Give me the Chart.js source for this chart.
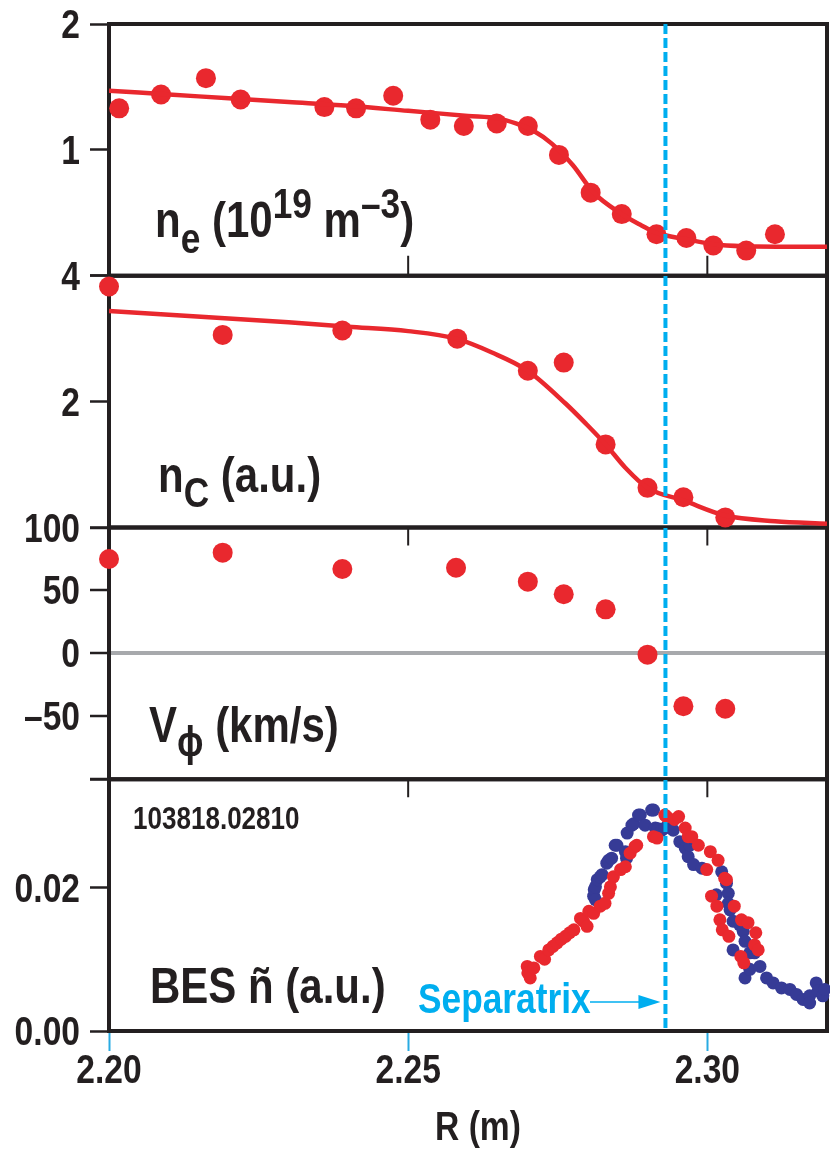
<!DOCTYPE html>
<html>
<head>
<meta charset="utf-8">
<script src="https://cdn.jsdelivr.net/npm/chart.js@4"></script>
<style>
  html, body { margin: 0; padding: 0; background: #fff; }
  #wrap { width: 830px; height: 1151px; }
</style>
</head>
<body>
<div id="wrap"><canvas id="profiles" width="830" height="1151"></canvas></div>
<script>
// Datos (R en m)
const xTicks = [2.20, 2.25, 2.30];
const separatrixR = 2.293;

// marcas de los ejes y (valor, texto)
const neTicks = [[1, '1'], [2, '2']];
const ncTicks = [[2, '2'], [4, '4']];
const vTicks = [[100, '100'], [50, '50'], [0, '0'], [-50, '\u201350']];
const besTicks = [[0.02, '0.02'], [0, '0.00']];

// n_e (10^19 m^-3): puntos medidos y ajuste
const neR   = [2.2017, 2.2087, 2.2162, 2.2220, 2.2360, 2.2413, 2.2475, 2.2537, 2.2593, 2.2648, 2.2700, 2.2752, 2.2805, 2.2857, 2.2915, 2.2965, 2.3010, 2.3065, 2.3113];
const neVal = [1.33, 1.44, 1.57, 1.40, 1.34, 1.33, 1.43, 1.24, 1.19, 1.21, 1.19, 0.96, 0.66, 0.49, 0.33, 0.30, 0.24, 0.20, 0.33];
const neFitR   = [2.200, 2.210, 2.220, 2.230, 2.240, 2.250, 2.255, 2.260, 2.265, 2.268, 2.271, 2.274, 2.2775, 2.281, 2.2857, 2.289, 2.2915, 2.2965, 2.301, 2.306, 2.320];
const neFitVal = [1.47, 1.44, 1.41, 1.38, 1.35, 1.31, 1.29, 1.27, 1.25, 1.21, 1.15, 1.05, 0.88, 0.66, 0.49, 0.40, 0.34, 0.29, 0.25, 0.235, 0.23];

// n_C (u.a.)
const ncR   = [2.2000, 2.2190, 2.2390, 2.2582, 2.2700, 2.2760, 2.2830, 2.2900, 2.2960, 2.3030];
const ncVal = [3.83, 3.06, 3.13, 3.00, 2.49, 2.62, 1.32, 0.63, 0.48, 0.16];
const ncFitR   = [2.200, 2.210, 2.220, 2.230, 2.240, 2.250, 2.258, 2.264, 2.270, 2.2763, 2.2797, 2.283, 2.2863, 2.290, 2.296, 2.303, 2.3113, 2.320];
const ncFitVal = [3.44, 3.38, 3.32, 3.26, 3.19, 3.12, 3.00, 2.78, 2.49, 1.97, 1.65, 1.32, 0.95, 0.63, 0.43, 0.19, 0.10, 0.06];

// V_phi (km/s)
const vR   = [2.2000, 2.2190, 2.2390, 2.2580, 2.2700, 2.2760, 2.2830, 2.2900, 2.2960, 2.3030];
const vVal = [75, 80, 67, 68, 57, 47, 35, -1, -42, -44];

// BES (u.a.), disparo 103818.02810
const besRedR   = [2.2699, 2.2700, 2.2704, 2.2710, 2.2721, 2.2728, 2.2735, 2.2742, 2.2749, 2.2756, 2.2763, 2.2770, 2.2777, 2.2788, 2.2793, 2.2799, 2.2802, 2.2810, 2.2821, 2.2829, 2.2835, 2.2838, 2.2843, 2.2855, 2.2863, 2.2871, 2.2879, 2.2882, 2.2910, 2.2916, 2.2929, 2.2932, 2.2945, 2.2952, 2.2963, 2.2968, 2.2974, 2.2985, 2.2999, 2.3005, 2.3007, 2.3016, 2.3018, 2.3021, 2.3025, 2.3029, 2.3032, 2.3036, 2.3045, 2.3056, 2.3057, 2.3061, 2.3068, 2.3079, 2.3081, 2.3085];
const besRedVal = [0.0090, 0.0081, 0.0074, 0.0088, 0.0104, 0.0100, 0.0113, 0.0118, 0.0123, 0.0128, 0.0132, 0.0137, 0.0141, 0.0157, 0.0153, 0.0146, 0.0167, 0.0164, 0.0174, 0.0178, 0.0192, 0.0201, 0.0215, 0.0225, 0.0229, 0.0248, 0.0257, 0.0259, 0.0271, 0.0269, 0.0301, 0.0299, 0.0295, 0.0299, 0.0283, 0.0271, 0.0271, 0.0259, 0.0225, 0.0250, 0.0188, 0.0174, 0.0238, 0.0155, 0.0141, 0.0213, 0.0211, 0.0132, 0.0174, 0.0104, 0.0155, 0.0095, 0.0151, 0.0120, 0.0137, 0.0113];
const besBlueR   = [2.2810, 2.2811, 2.2813, 2.2813, 2.2816, 2.2821, 2.2824, 2.2832, 2.2835, 2.2840, 2.2846, 2.2849, 2.2863, 2.2865, 2.2866, 2.2874, 2.2877, 2.2885, 2.2888, 2.2896, 2.2907, 2.2910, 2.2913, 2.2918, 2.2924, 2.2929, 2.2935, 2.2943, 2.2954, 2.2963, 2.2968, 2.2971, 2.2977, 2.2991, 2.3015, 2.3024, 2.3032, 2.3035, 2.3035, 2.3038, 2.3043, 2.3043, 2.3054, 2.3060, 2.3063, 2.3063, 2.3071, 2.3071, 2.3079, 2.3088, 2.3099, 2.3110, 2.3124, 2.3138, 2.3149, 2.3160, 2.3171, 2.3171, 2.3182, 2.3185, 2.3193, 2.3196];
const besBlueVal = [0.0188, 0.0197, 0.0183, 0.0201, 0.0211, 0.0215, 0.0218, 0.0234, 0.0238, 0.0241, 0.0259, 0.0259, 0.0250, 0.0241, 0.0276, 0.0287, 0.0289, 0.0301, 0.0301, 0.0287, 0.0308, 0.0308, 0.0283, 0.0282, 0.0280, 0.0283, 0.0287, 0.0280, 0.0264, 0.0255, 0.0243, 0.0259, 0.0232, 0.0227, 0.0190, 0.0222, 0.0206, 0.0192, 0.0178, 0.0169, 0.0153, 0.0113, 0.0148, 0.0139, 0.0125, 0.0074, 0.0109, 0.0086, 0.0109, 0.0090, 0.0074, 0.0067, 0.0060, 0.0058, 0.0051, 0.0044, 0.0049, 0.0039, 0.0067, 0.0056, 0.0049, 0.0058];

const RED = '#e9282e';
const BLUE = '#363b96';
const DARK = '#231f20';
const CYAN = '#00aeef';
const GRAY = '#a7a9ac';
const FONT = "'Liberation Sans', Arial, sans-serif";
const SQUEEZE = 0.84; // letra condensada

const toPoints = (xs, ys) => xs.map((x, i) => ({ x: x, y: ys[i] }));

const dots = (data, axis, color, r) => ({
    data: data, yAxisID: axis, backgroundColor: color, borderWidth: 0,
    pointRadius: r, pointHoverRadius: r, showLine: false, clip: false
});
const fit = (data, axis) => ({
    data: data, yAxisID: axis, borderColor: RED, borderWidth: 4.5, pointRadius: 0,
    showLine: true, cubicInterpolationMode: 'monotone', fill: false
});

// Eje y de cada panel (apilados); las etiquetas se dibujan en el plugin
const panelAxis = (min, max, tickVals, weight, extraGrid) => ({
    type: 'linear', position: 'left', stack: 'panels', stackWeight: 1, weight: weight,
    min: min, max: max,
    afterBuildTicks: s => { s.ticks = tickVals.map(v => ({ value: v })); },
    afterFit: s => { s.width = 109; },
    ticks: { display: false },
    grid: Object.assign({ drawOnChartArea: false, tickLength: 19, tickColor: DARK, tickWidth: 2.5 }, extraGrid || {}),
    border: { display: false }
});

// Texto condensado
function squeezedText(ctx, text, x, y, size, align, color) {
    ctx.save();
    ctx.font = `bold ${size}px ${FONT}`;
    ctx.fillStyle = color || DARK;
    ctx.textBaseline = 'alphabetic';
    ctx.textAlign = align || 'left';
    ctx.translate(x, y);
    ctx.scale(SQUEEZE, 1);
    ctx.fillText(text, 0, 0);
    const w = ctx.measureText(text).width * SQUEEZE;
    ctx.restore();
    return w;
}

// Texto con subíndices / superíndices
function drawRuns(ctx, x, y, runs, color) {
    runs.forEach(([text, size, dy]) => {
        x += squeezedText(ctx, text, x, y + dy, size, 'left', color);
    });
}

const framePlugin = {
    id: 'frames',
    beforeDatasetsDraw(chart) {
        const ctx = chart.ctx;
        const xs = chart.scales.x;
        const a = chart.chartArea;
        ctx.save();
        ctx.strokeStyle = DARK;
        ctx.lineWidth = 4;
        ['y1', 'y2', 'y3', 'y4'].forEach(id => {
            const s = chart.scales[id];
            ctx.strokeRect(a.left, s.top, a.right - a.left, s.bottom - s.top);
        });
        // marcas interiores en 2.25 y 2.30
        ctx.lineWidth = 2;
        [2.25, 2.30].forEach(v => {
            const px = xs.getPixelForValue(v);
            ctx.beginPath();
            ctx.moveTo(px, chart.scales.y1.bottom);
            ctx.lineTo(px, chart.scales.y1.bottom - 20);
            ctx.moveTo(px, chart.scales.y3.top);
            ctx.lineTo(px, chart.scales.y3.top + 18);
            ctx.moveTo(px, chart.scales.y4.top);
            ctx.lineTo(px, chart.scales.y4.top + 18);
            ctx.stroke();
        });
        ctx.restore();
    },
    afterDatasetsDraw(chart) {
        const ctx = chart.ctx;
        const a = chart.chartArea;
        const xs = chart.scales.x;
        const sx = xs.getPixelForValue(separatrixR);
        ctx.save();
        ctx.strokeStyle = CYAN;
        ctx.lineWidth = 4;
        ctx.setLineDash([10, 4]);
        ctx.beginPath();
        ctx.moveTo(sx, a.top);
        ctx.lineTo(sx, a.bottom);
        ctx.stroke();
        ctx.setLineDash([]);
        ctx.restore();

        // etiquetas de los ejes
        [['y1', neTicks], ['y2', ncTicks], ['y3', vTicks], ['y4', besTicks]].forEach(([id, list]) => {
            const s = chart.scales[id];
            list.forEach(([v, t]) => squeezedText(ctx, t, 80, s.getPixelForValue(v) + 14, 40, 'right'));
        });
        xTicks.forEach(v => squeezedText(ctx, v.toFixed(2), xs.getPixelForValue(v), 1083, 40, 'center'));
        squeezedText(ctx, 'R (m)', 478, 1140, 40, 'center');

        // etiquetas de los paneles
        drawRuns(ctx, 155, 237, [['n', 50, 0], ['e', 42, 16], [' (10', 50, 0], ['19', 42, -19], [' m', 50, 0], ['\u20133', 42, -19], [')', 50, 0]]);
        drawRuns(ctx, 158, 492, [['n', 50, 0], ['C', 42, 15], [' (a.u.)', 50, 0]]);
        drawRuns(ctx, 149, 742, [['V', 50, 0], ['\u03d5', 42, 14], [' (km/s)', 50, 0]]);
        drawRuns(ctx, 150, 1003, [['BES \u00f1 (a.u.)', 50, 0]]);
        drawRuns(ctx, 133, 829, [['103818.02810', 31, 0]]);
        drawRuns(ctx, 418, 1013, [['Separatrix', 42, 0]], CYAN);

        // flecha hacia la separatriz
        const ay = 1002, tip = sx - 5;
        ctx.save();
        ctx.strokeStyle = CYAN;
        ctx.fillStyle = CYAN;
        ctx.lineWidth = 1.5;
        ctx.beginPath();
        ctx.moveTo(590, ay);
        ctx.lineTo(tip - 18, ay);
        ctx.stroke();
        ctx.beginPath();
        ctx.moveTo(tip, ay);
        ctx.lineTo(tip - 22, ay - 7);
        ctx.lineTo(tip - 22, ay + 7);
        ctx.closePath();
        ctx.fill();
        ctx.restore();
    }
};

const ctx = document.getElementById('profiles').getContext('2d');
const chart = new Chart(ctx, {
    type: 'scatter',
    data: {
        datasets: [
            fit(toPoints(neFitR, neFitVal), 'y1'),
            dots(toPoints(neR, neVal), 'y1', RED, 10),
            fit(toPoints(ncFitR, ncFitVal), 'y2'),
            dots(toPoints(ncR, ncVal), 'y2', RED, 10),
            dots(toPoints(vR, vVal), 'y3', RED, 10),
            dots(toPoints(besRedR, besRedVal), 'y4', RED, 6.5),
            dots(toPoints(besBlueR, besBlueVal), 'y4', BLUE, 6.5)
        ]
    },
    options: {
        responsive: false,
        animation: false,
        events: [],
        layout: { autoPadding: false, padding: { top: 24, right: 3, left: 0, bottom: 0 } },
        plugins: { legend: { display: false }, tooltip: { enabled: false } },
        scales: {
            x: {
                type: 'linear', min: 2.20, max: 2.32,
                afterBuildTicks: s => { s.ticks = xTicks.map(v => ({ value: v })); },
                afterFit: s => { s.height = 120; },
                ticks: { display: false },
                grid: { drawOnChartArea: false, tickLength: 20, tickColor: '#29abe2', tickWidth: 2 },
                border: { display: false }
            },
            y4: panelAxis(0, 0.0351, besTicks.map(t => t[0]).concat([0.0351]), 1),
            y3: panelAxis(-100, 100, [-100, -50, 0, 50, 100], 2,
                { drawOnChartArea: true, lineWidth: 4, color: c => (c.tick && c.tick.value === 0) ? GRAY : 'rgba(0,0,0,0)' }),
            y2: panelAxis(0, 4, [0, 2, 4], 3),
            y1: panelAxis(0, 2, [0, 1, 2], 4)
        }
    },
    plugins: [framePlugin]
});
</script>
</body>
</html>
